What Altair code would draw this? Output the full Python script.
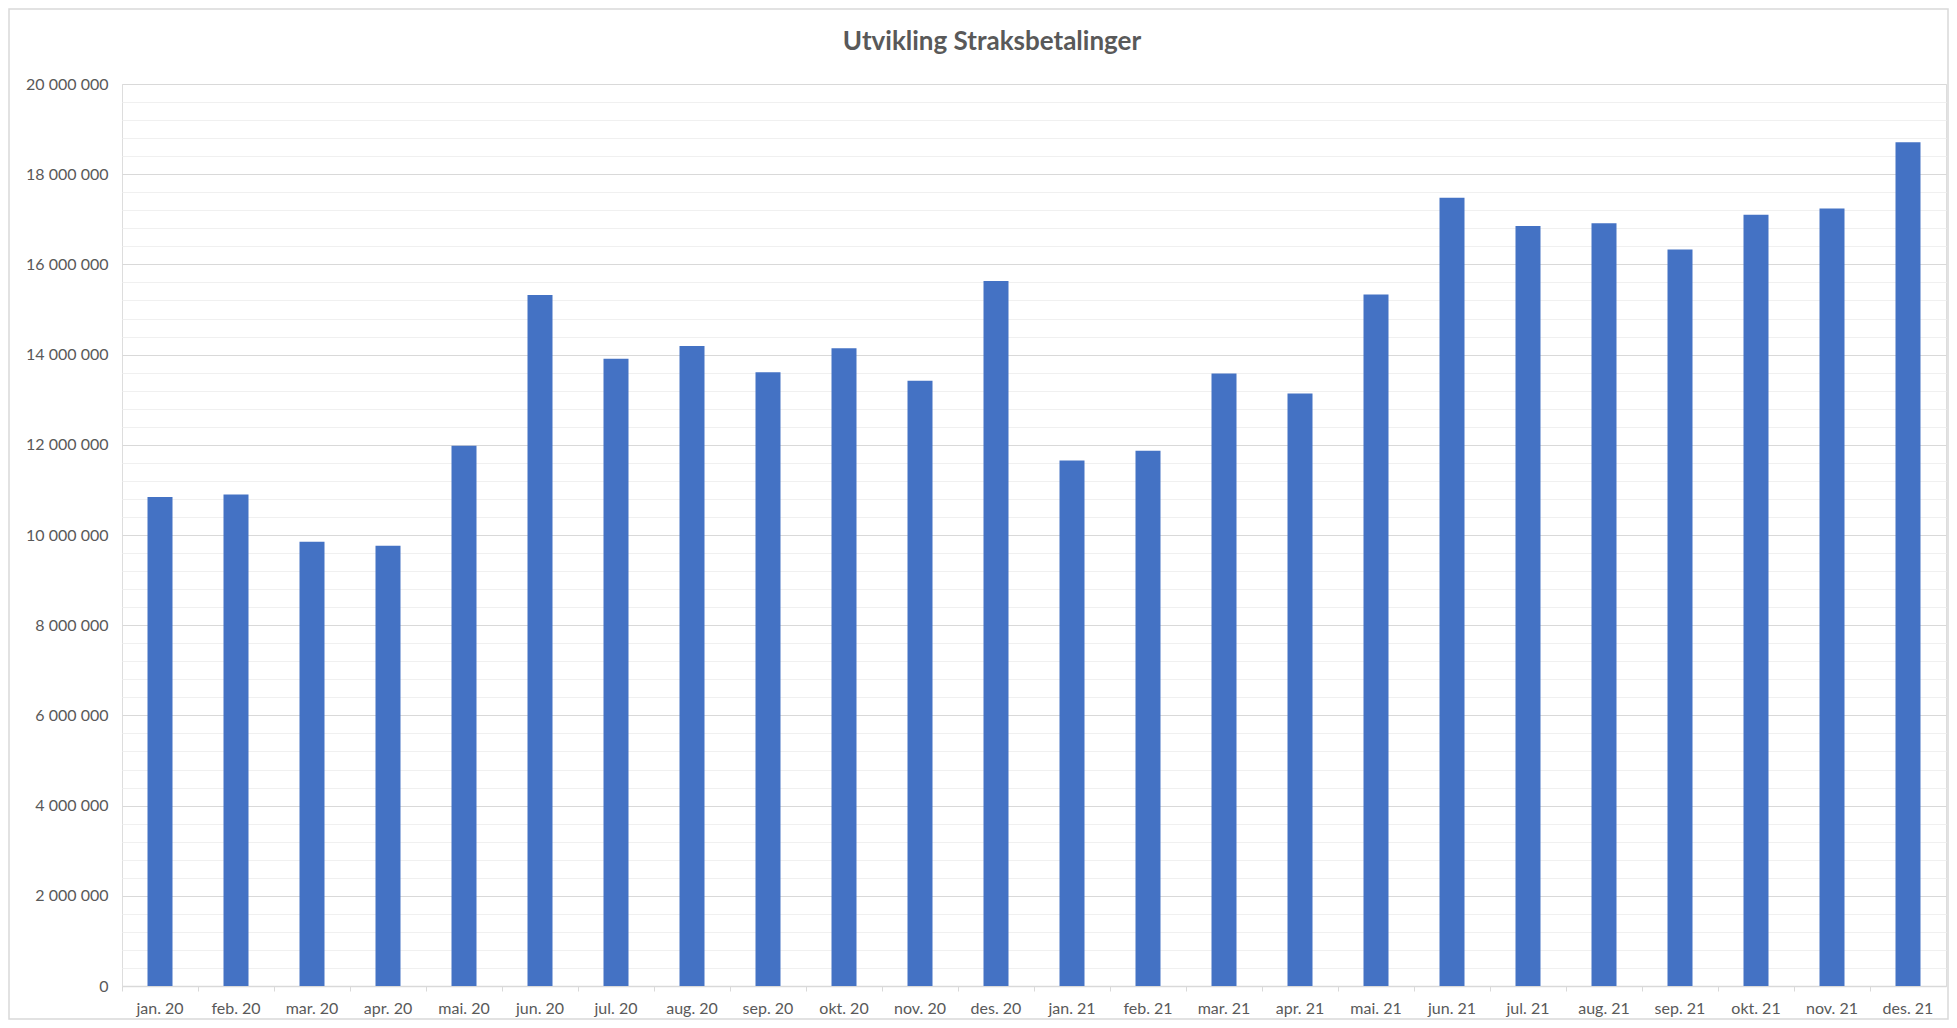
import altair as alt
import pandas as pd

months = ["jan. 20", "feb. 20", "mar. 20", "apr. 20", "mai. 20", "jun. 20",
          "jul. 20", "aug. 20", "sep. 20", "okt. 20", "nov. 20", "des. 20",
          "jan. 21", "feb. 21", "mar. 21", "apr. 21", "mai. 21", "jun. 21",
          "jul. 21", "aug. 21", "sep. 21", "okt. 21", "nov. 21", "des. 21"]
values = [10840000, 10900000, 9850000, 9760000, 11980000, 15320000,
          13910000, 14190000, 13610000, 14140000, 13420000, 15630000,
          11650000, 11870000, 13580000, 13140000, 15330000, 17480000,
          16850000, 16910000, 16330000, 17100000, 17240000, 18710000]
y_ticks = list(range(0, 20000001, 400000))
title_text = "Utvikling Straksbetalinger"

W, H = 1824, 902
PAD = {"left": 114, "top": 76, "right": 3, "bottom": 34}

df = pd.DataFrame({"month": months, "value": values})

grid_cond = {"condition": {"test": "datum.value % 2000000 === 0", "value": "#d9d9d9"},
             "value": "#f0f0f0"}

bars = alt.Chart(df).mark_bar(size=25, color="#4472C4").encode(
    x=alt.X("month:N", sort=months, title=None,
            scale=alt.Scale(paddingInner=0, paddingOuter=0),
            axis=alt.Axis(labelAngle=0, bandPosition=0, ticks=True, tickSize=5,
                          tickColor="#d9d9d9", domainColor="#d9d9d9", domainWidth=1.5,
                          labelPadding=9, labelFont="Lato", labelFontSize=16,
                          labelColor="#595959", grid=False)),
    y=alt.Y("value:Q", title=None,
            scale=alt.Scale(domain=[0, 20000000], nice=False),
            axis=alt.Axis(values=y_ticks, ticks=False, domain=False,
                          gridColor=grid_cond, gridWidth=1,
                          labelExpr="datum.value % 2000000 === 0 ? replace(replace(format(datum.value, ','), ',', ' '), ',', ' ') : ''",
                          labelPadding=14, labelFont="Lato", labelFontSize=16,
                          labelColor="#595959")),
)

frame = alt.Chart(alt.Data(values=[{"k": 1}])).mark_rect(
    fill="transparent", stroke="#d9d9d9", strokeWidth=1.5
).encode(
    x=alt.value(-PAD["left"] + 1), x2=alt.value(W + PAD["right"] - 1),
    y=alt.value(-PAD["top"] + 1), y2=alt.value(H + PAD["bottom"] - 1),
)

title = alt.Chart(alt.Data(values=[{"t": title_text}])).mark_text(
    font="Lato", fontSize=26, fontWeight="bold", color="#595959",
    align="center", baseline="middle"
).encode(
    text="t:N", x=alt.value(W / 2 - 42), y=alt.value(-42),
)

chart = alt.layer(bars, frame, title).properties(
    width=W, height=H,
    autosize=alt.AutoSizeParams(type="none"),
    padding=PAD,
).configure_view(stroke=None).configure(background="white")

chart.save("out.html", embed_options={"renderer": "svg", "actions": False})
